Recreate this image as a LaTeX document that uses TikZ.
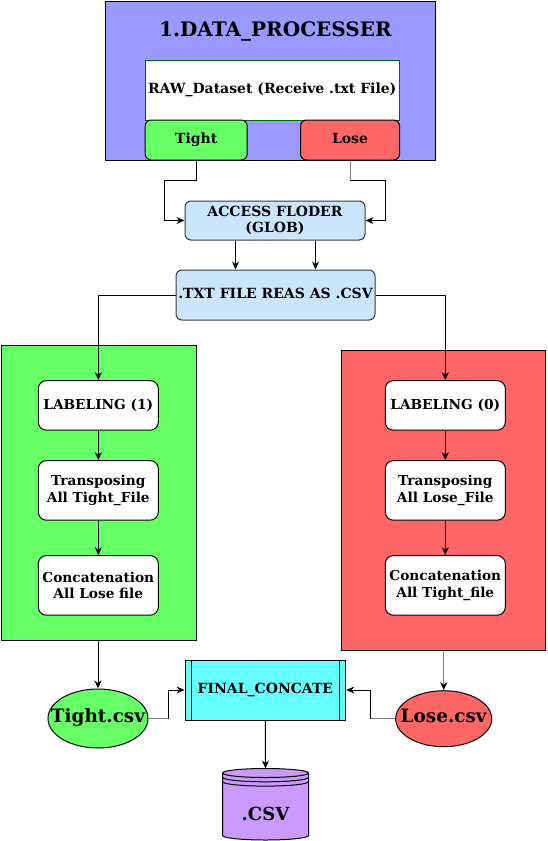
\documentclass[tikz,border=0pt]{standalone}
\usepackage{fontspec}
\setmainfont{DejaVu Serif}
\usetikzlibrary{arrows.meta,shapes.geometric}
\definecolor{procblue}{HTML}{9999FF}
\definecolor{tightgreen}{HTML}{66FF66}
\definecolor{losered}{HTML}{FF6666}
\definecolor{accblue}{HTML}{CCE5FF}
\definecolor{accedge}{HTML}{36393D}
\definecolor{rawedge}{HTML}{006600}
\definecolor{finalcyan}{HTML}{66FFFF}
\definecolor{csvpurple}{HTML}{CC99FF}
\definecolor{wiregrey}{HTML}{808080}

\begin{document}
\begin{tikzpicture}[x=1pt, y=-1pt, line width=1pt,
    >={Stealth[length=8pt,width=7pt,color=black]}]
  \useasboundingbox (0,0) rectangle (547,841);
  \tikzset{
    zone/.style={draw, inner sep=0pt},
    capmid/.style={text height=0.73em, text depth=0pt},
    title/.style={capmid, font=\fontsize{20}{24}\selectfont\bfseries},
    tab/.style={draw, rounded corners=6pt, inner sep=0pt, capmid,
                minimum width=#1, minimum height=40pt,
                font=\fontsize{14}{17}\selectfont\bfseries},
    flowbox/.style={draw=accedge, fill=accblue, rounded corners=6pt,
                    inner sep=0pt, align=center},
    stepbox/.style={draw, fill=white, rounded corners=8pt, inner sep=0pt,
                    minimum width=120pt, align=center,
                    font=\fontsize{13.7}{16.7}\selectfont\bfseries},
    csvfile/.style={draw, ellipse, inner sep=0pt},
    csvname/.style={capmid, font=\fontsize{18.4}{22}\selectfont\bfseries},
    wire/.style={draw=wiregrey}}

  % ---------- the data processer block ----------
  \node[zone, fill=procblue, minimum width=330pt, minimum height=159pt]
    (proc) at (270,80.5) {};
  \node[title] (proctitle) at (275.5,32.5) {1.DATA\_PROCESSER};
  \node[zone, draw=rawedge, fill=white, minimum width=254pt, minimum height=60pt,
        capmid, font=\fontsize{14}{17}\selectfont\bfseries]
    (raw) at (272.2,90) {RAW\_Dataset (Receive .txt File)};
  \node[tab=102pt, fill=tightgreen] (tight) at (196.2,140) {Tight};
  \node[tab=99pt, fill=losered] (lose) at (350,140) {Lose};

  % ---------- reading the files ----------
  \node[flowbox, minimum width=180pt, minimum height=39pt,
        font=\fontsize{14}{16.7}\selectfont\bfseries]
    (access) at (275,220.5) {ACCESS FLODER\\(GLOB)};
  \node[flowbox, minimum width=199pt, minimum height=50pt, capmid,
        font=\fontsize{14}{17}\selectfont\bfseries]
    (txt) at (275.5,295) {.TXT FILE REAS AS .CSV};

  \draw[->] (tight.south) -- ++(0,20) -| ([xshift=-20pt]access.west) -- (access.west);
  \draw[wire] (lose.south) -- ++(0,20);
  \draw[->] (lose.south) ++(0,20) -| ([xshift=20pt]access.east) -- (access.east);
  \draw[->] ([xshift=-39.5pt]access.south) -- ([xshift=-39.5pt]access.south |- txt.north);
  \draw[->] ([xshift=40.5pt]access.south) -- ([xshift=40.5pt]access.south |- txt.north);

  % ---------- tight branch (left) ----------
  \node[zone, fill=tightgreen, minimum width=195.7pt, minimum height=295pt]
    (tightzone) at (98.85,492.5) {};
  \node[stepbox, capmid, minimum height=49.5pt] (lab1) at (98.3,405.4) {LABELING (1)};
  \node[stepbox, minimum height=59.5pt] (tr1) at (98.3,490.4) {Transposing\\All Tight\_File};
  \node[stepbox, minimum height=59.5pt] (cc1) at (98.3,585.4) {Concatenation\\All Lose file};

  % ---------- lose branch (right) ----------
  \node[zone, fill=losered, minimum width=204pt, minimum height=300pt]
    (losezone) at (443,500) {};
  \node[stepbox, capmid, minimum height=49.5pt] (lab0) at (445.3,405.4) {LABELING (0)};
  \node[stepbox, minimum height=59.5pt] (tr0) at (445.3,490.4) {Transposing\\All Lose\_File};
  \node[stepbox, minimum height=59.5pt] (cc0) at (445.3,585.4) {Concatenation\\All Tight\_file};

  \draw[->] (txt.west) -| (lab1.north);
  \draw[->] (txt.east) -| (lab0.north);
  \draw[->] (lab1) -- (tr1);
  \draw[->] (tr1) -- (cc1);
  \draw[->] (lab0) -- (tr0);
  \draw[->] (tr0) -- (cc0);

  % ---------- merging ----------
  \node[csvfile, fill=tightgreen, minimum width=100pt, minimum height=59pt]
    (tcsv) at (98,718.5) {};
  \node[csvname] (tcsvlab) at (tcsv) {Tight.csv};
  \node[csvfile, fill=losered, minimum width=96pt, minimum height=56pt]
    (lcsv) at (443.7,718.7) {};
  \node[csvname] (lcsvlab) at (lcsv) {Lose.csv};
  \node[zone, fill=finalcyan, minimum width=160.7pt, minimum height=60pt, capmid,
        font=\fontsize{14}{17}\selectfont\bfseries]
    (fin) at (265.4,690) {FINAL\_CONCATE};
  \draw ([xshift=6.7pt]fin.north west) -- ([xshift=6.7pt]fin.south west);
  \draw ([xshift=-6.7pt]fin.north east) -- ([xshift=-6.7pt]fin.south east);

  \draw[->] (tightzone.south -| tcsv.north) -- (tcsv.north);
  \draw[wire,->] (losezone.south -| lcsv.north) -- (lcsv.north);
  \draw[wire] (tcsv.east) -- ++(20,0);
  \draw[->] (tcsv.east) ++(20,0) |- (fin.west);
  \draw[wire] (lcsv.west) -- ++(-25,0);
  \draw[->] (lcsv.west) ++(-25,0) |- (fin.east);

  % the datastore, drawn by hand
  \filldraw[fill=csvpurple] (222.5,773) -- (222.5,835.5)
    arc[start angle=180, end angle=360, x radius=43pt, y radius=4.5pt]
    -- (308.5,773)
    arc[start angle=0, end angle=180, x radius=43pt, y radius=4.5pt] -- cycle;
  \foreach \yy in {773,777.3,781.6}
    \draw (222.5,\yy) arc[start angle=180, end angle=360, x radius=43pt, y radius=4.5pt];
  \node[inner sep=0pt, minimum width=86pt, minimum height=71pt]
    (csvdb) at (265.5,804.5) {};
  \node[capmid, font=\fontsize{18}{22}\selectfont\bfseries] (csvlab) at (265.5,817) {.CSV};
  \draw[->] (fin.south) -- (csvdb.north);
\end{tikzpicture}
\end{document}
